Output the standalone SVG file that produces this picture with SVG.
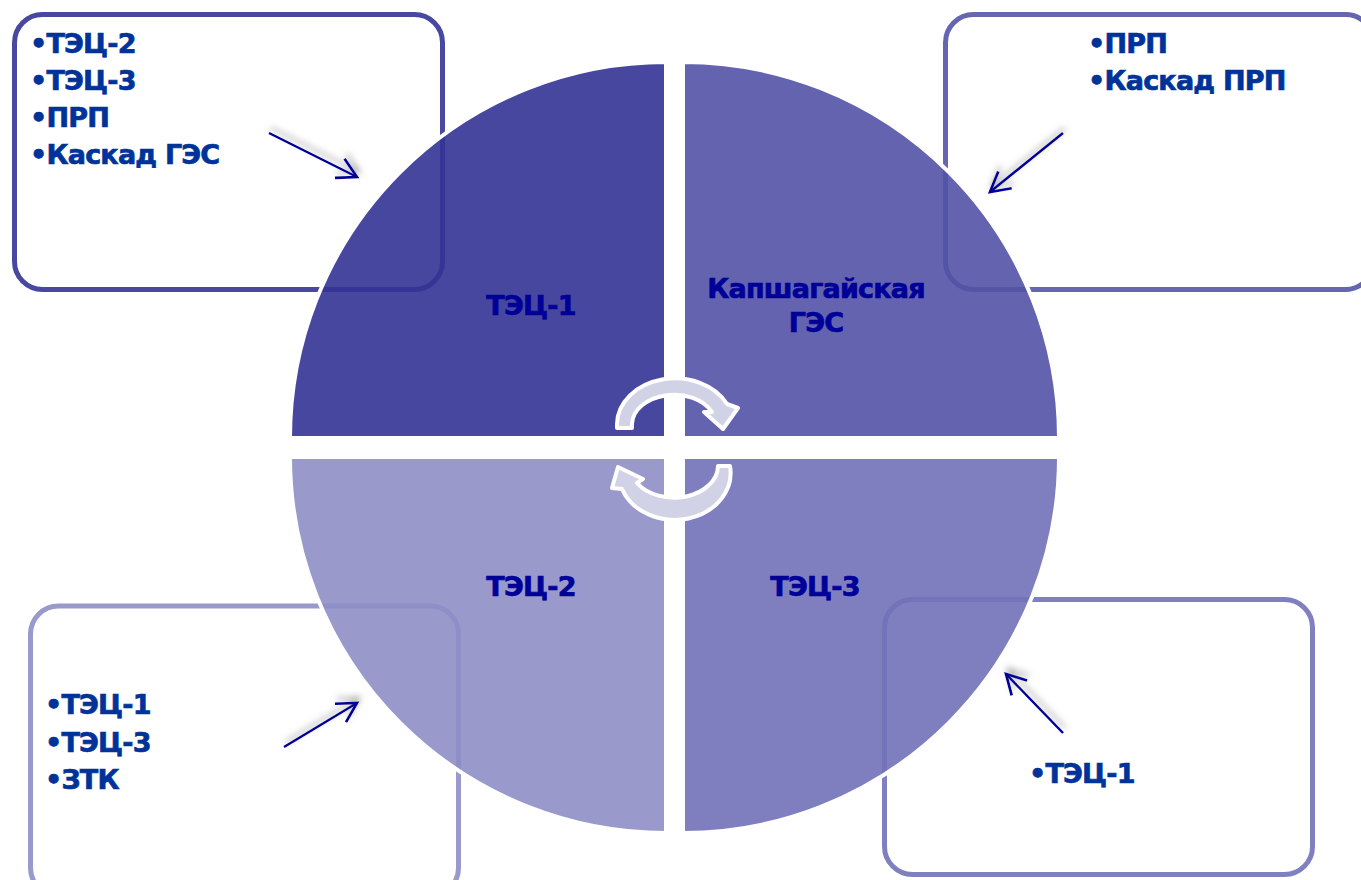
<svg xmlns="http://www.w3.org/2000/svg" width="1361" height="880" viewBox="0 0 1361 880">
  <style>
    .box { fill: none; stroke-width: 5; }
    .quad { stroke: #ffffff; stroke-width: 4; fill-opacity: 0.9; }
    .item { font-family: "DejaVu Sans", Verdana, sans-serif; font-weight: bold; font-size: 27px; letter-spacing: -0.8px; fill: #003399; stroke: #003399; stroke-width: 0.7; }
    .label { font-family: "DejaVu Sans", Verdana, sans-serif; font-weight: bold; font-size: 27px; letter-spacing: -0.8px; fill: #000099; stroke: #000099; stroke-width: 0.7; text-anchor: middle; }
    .conn { stroke: #000099; stroke-width: 2.5; fill: none; marker-end: url(#head); }
    .cyc { fill: #D2D2E6; stroke: #ffffff; stroke-width: 4; stroke-linejoin: round; }
  </style>
  <defs>
    <marker id="head" markerUnits="userSpaceOnUse" markerWidth="30" markerHeight="30" viewBox="-22 -14 26 28" refX="0" refY="0" orient="auto">
      <path d="M-18,-10 L0,0 L-18,10" fill="none" stroke="#000099" stroke-width="2.5"/>
    </marker>
    <filter id="shadow" x="-30%" y="-50%" width="160%" height="200%">
      <feGaussianBlur in="SourceAlpha" stdDeviation="3" result="b"/>
      <feOffset in="b" dx="2" dy="-5" result="o"/>
      <feFlood flood-color="#808080" flood-opacity="0.7"/>
      <feComposite in2="o" operator="in" result="s"/>
      <feMerge>
        <feMergeNode in="s"/>
        <feMergeNode in="SourceGraphic"/>
      </feMerge>
    </filter>
  </defs>
  <rect width="1361" height="880" fill="#ffffff"/>

  <g id="box-tl">
    <rect class="box" x="14.5" y="14.5" width="428" height="275" rx="28" stroke="#4848A0"/>
    <text class="item" x="30" y="53">•ТЭЦ-2</text>
    <text class="item" x="30" y="90">•ТЭЦ-3</text>
    <text class="item" x="30" y="127">•ПРП</text>
    <text class="item" x="30" y="164">•Каскад ГЭС</text>
  </g>
  <g id="box-tr">
    <rect class="box" x="945.5" y="14.5" width="428" height="275" rx="28" stroke="#6666B0"/>
    <text class="item" x="1088" y="53">•ПРП</text>
    <text class="item" x="1088" y="90">•Каскад ПРП</text>
  </g>
  <g id="box-bl">
    <rect class="box" x="30.5" y="606" width="428" height="290" rx="28" stroke="#9999CC"/>
    <text class="item" x="45" y="714">•ТЭЦ-1</text>
    <text class="item" x="45" y="752">•ТЭЦ-3</text>
    <text class="item" x="45" y="789">•ЗТК</text>
  </g>
  <g id="box-br">
    <rect class="box" x="884.5" y="599.5" width="428" height="275" rx="28" stroke="#8080C0"/>
    <text class="item" x="1029" y="783">•ТЭЦ-1</text>
  </g>

  <g id="q-tl">
    <path class="quad" d="M666,438 L290,438 A376,376 0 0 1 666,62 Z" fill="#333395"/>
    <text class="label" x="531" y="315">ТЭЦ-1</text>
  </g>
  <g id="q-tr">
    <path class="quad" d="M683,438 L683,62 A376,376 0 0 1 1059,438 Z" fill="#5252A6"/>
    <text class="label" x="816" y="298">Капшагайская</text>
    <text class="label" x="816" y="332">ГЭС</text>
  </g>
  <g id="q-bl">
    <path class="quad" d="M666,457 L666,833 A376,376 0 0 1 290,457 Z" fill="#8E8EC6"/>
    <text class="label" x="531" y="596">ТЭЦ-2</text>
  </g>
  <g id="q-br">
    <path class="quad" d="M683,457 L1059,457 A376,376 0 0 1 683,833 Z" fill="#7171B8"/>
    <text class="label" x="815" y="596">ТЭЦ-3</text>
  </g>

  <g id="connectors">
    <g filter="url(#shadow)">
      <line class="conn" x1="269" y1="133" x2="357" y2="177"/>
      <line class="conn" x1="1063" y1="133" x2="990" y2="192"/>
      <line class="conn" x1="284" y1="747" x2="357" y2="703"/>
      <line class="conn" x1="1063" y1="733" x2="1006" y2="674"/>
    </g>
    <path class="cyc" d="M617,428 L617,424 A58,46 0 0 1 727,404 L738,408 L723,429 L704,412 L712,412 A42,30 0 0 0 632,424 L632,428 Z"/>
    <path class="cyc" d="M730,466 A56,47 0 0 1 622,489 L612,488 L618,467 L643,479 L637,483 A44,32 0 0 0 718,466 Z"/>
  </g>
</svg>
